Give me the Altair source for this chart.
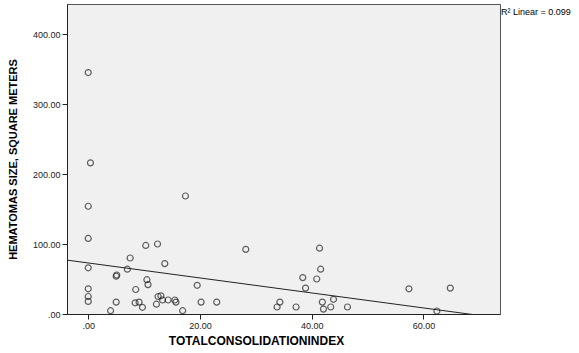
import altair as alt
import pandas as pd

# Scatter data
consolidation_index = [
    0.0, 0.4, 0.0, 0.0, 0.0, 0.0, 0.0, 0.0,
    4.0, 5.0, 5.1, 5.0, 7.0, 7.5, 8.5, 8.4, 9.1, 9.7, 10.5, 10.7, 10.3,
    12.4, 12.5, 12.2, 13.7, 13.0, 13.3, 14.3, 15.5, 15.7, 16.9, 17.4,
    19.5, 20.2, 23.0, 28.2, 34.3, 33.8, 37.2, 38.4, 38.9, 41.4, 41.6,
    40.9, 41.9, 42.1, 43.4, 43.9, 46.4, 57.4, 64.8, 62.4,
]
hematoma_size = [
    345, 216, 154, 108, 66, 36, 25, 18,
    4.7, 17, 55.7, 54, 64, 80, 35, 16, 17, 9.6, 49, 42, 98,
    100, 25, 14, 72, 26, 20, 20, 20, 17, 4.7, 168.6,
    41, 17, 17, 92.4, 17, 10, 10, 52, 37, 94, 64,
    50, 17, 7, 10, 21, 10, 36, 37, 4.3,
]

# Fit line endpoints
fit_x = [-3.8, 73.7]
fit_y = [77.0, -6.0]

x_ticks = [0, 20, 40, 60]
y_ticks = [0, 100, 200, 300, 400]
x_domain = [-3.8, 73.7]
y_domain = [0, 443]

pts = pd.DataFrame({"x": consolidation_index, "y": hematoma_size})
fit = pd.DataFrame({"x": fit_x, "y": fit_y})

label_expr = "datum.value == 0 ? '.00' : format(datum.value, '.2f')"
font = "Liberation Sans"

x_enc = alt.X(
    "x:Q",
    scale=alt.Scale(domain=x_domain, nice=False, zero=False),
    axis=alt.Axis(
        values=x_ticks, labelExpr=label_expr, grid=False,
        title="TOTALCONSOLIDATIONINDEX", titleFont=font, titleFontSize=12,
        titleFontWeight="bold", titleColor="#000000", titleX=189, titleY=30,
        titleAnchor="start", titleAlign="center", titleBaseline="alphabetic",
        labelFont=font, labelFontSize=9, labelColor="#222222", labelPadding=2,
        tickColor="#222222", tickSize=5, domainColor="#222222",
    ),
)
y_enc = alt.Y(
    "y:Q",
    scale=alt.Scale(domain=y_domain, nice=False),
    axis=alt.Axis(
        values=y_ticks, labelExpr=label_expr, grid=False,
        title="HEMATOMAS SIZE, SQUARE METERS", titleFont=font, titleFontSize=11,
        titleFontWeight="bold", titleColor="#000000", titleX=-49,
        labelFont=font, labelFontSize=9, labelColor="#222222", labelPadding=2,
        tickColor="#222222", tickSize=5, domainColor="#222222",
    ),
)

points = alt.Chart(pts).mark_point(
    shape="circle", filled=False, size=36, strokeWidth=1.2, color="#222222"
).encode(x=x_enc, y=y_enc)

line = alt.Chart(fit).mark_line(color="#222222", strokeWidth=1, clip=True).encode(
    x="x:Q", y="y:Q"
)

r2 = alt.Chart(pd.DataFrame({"t": ["R² Linear = 0.099"]})).mark_text(
    align="left", baseline="middle", font=font, fontSize=9, color="#000000"
).encode(x=alt.value(434), y=alt.value(8), text="t:N")

chart = (
    alt.layer(points, line, r2)
    .properties(
        width=433, height=310,
        autosize=alt.AutoSizeParams(type="none"),
        padding={"left": 67, "top": 4, "right": 79, "bottom": 39},
        background="white",
    )
    .configure_view(fill="#F0F0F0", stroke="#555555", strokeWidth=1)
)

chart.save("out.html", embed_options={"renderer": "svg", "actions": False})
